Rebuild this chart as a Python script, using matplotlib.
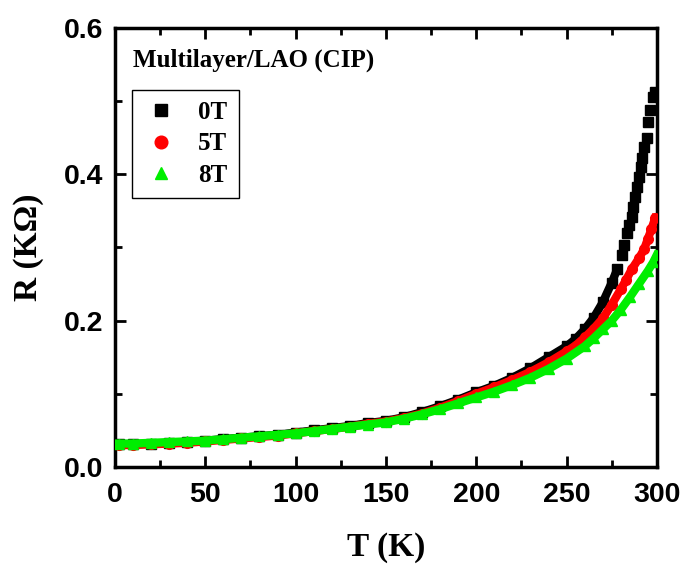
import numpy as np
import matplotlib
matplotlib.use("Agg")
import matplotlib.pyplot as plt
from matplotlib.ticker import MultipleLocator, FormatStrFormatter

# ===== Data (T in K, R in kOhm) =====
T_0T = [2, 10, 20, 30, 40, 50, 60, 70, 80, 90, 100, 110, 120, 130, 140, 150,
        160, 170, 180, 190, 200, 210, 220, 230, 240, 250, 255, 260, 265, 270,
        275, 278, 280.6, 281.7, 283.3, 284.5, 286, 286.7, 287.8, 289, 290,
        291, 292, 292.8, 294.4, 295, 296, 297.7, 298.8]
R_0T = [0.031, 0.031, 0.032, 0.033, 0.034, 0.036, 0.038, 0.040, 0.042, 0.044,
        0.047, 0.050, 0.053, 0.056, 0.060, 0.063, 0.068, 0.075, 0.083, 0.092,
        0.102, 0.111, 0.122, 0.135, 0.150, 0.165, 0.175, 0.188, 0.204, 0.225,
        0.252, 0.270, 0.290, 0.303, 0.320, 0.331, 0.342, 0.355, 0.369, 0.383,
        0.396, 0.410, 0.422, 0.437, 0.450, 0.472, 0.488, 0.506, 0.512]

T_5T = [2, 10, 20, 30, 40, 50, 60, 70, 80, 90, 100, 110, 120, 130, 140, 150,
        160, 170, 180, 190, 200, 210, 220, 230, 240, 250, 255, 260, 265, 270,
        275, 280, 283, 286, 290, 293, 295, 297, 299]
R_5T = [0.030, 0.030, 0.031, 0.032, 0.033, 0.035, 0.037, 0.039, 0.041, 0.043,
        0.046, 0.049, 0.052, 0.055, 0.059, 0.062, 0.067, 0.073, 0.081, 0.090,
        0.100, 0.109, 0.119, 0.130, 0.143, 0.158, 0.166, 0.177, 0.189, 0.203,
        0.222, 0.243, 0.256, 0.270, 0.285, 0.298, 0.312, 0.325, 0.340]

T_8T = [2, 10, 20, 30, 40, 50, 60, 70, 80, 90, 100, 110, 120, 130, 140, 150,
        160, 170, 180, 190, 200, 210, 220, 230, 240, 250, 260, 265, 270, 275,
        280, 285, 290, 295, 298, 300]
R_8T = [0.032, 0.032, 0.033, 0.034, 0.035, 0.036, 0.038, 0.040, 0.042, 0.044,
        0.046, 0.049, 0.052, 0.055, 0.058, 0.061, 0.066, 0.072, 0.079, 0.087,
        0.095, 0.103, 0.112, 0.122, 0.134, 0.148, 0.165, 0.176, 0.188, 0.200,
        0.215, 0.232, 0.250, 0.268, 0.280, 0.290]

SANS = 'Liberation Sans'
SERIF = 'Liberation Serif'
GREEN = '#00ee00'

fig = plt.figure(figsize=(6.86, 5.65), dpi=100)
ax = fig.add_axes([0.1676, 0.1735, 0.790, 0.777])

t0 = np.array(T_0T)
r0 = np.array(R_0T)
dense = t0 <= 278
# dense part of each run shows as a thick band of overlapping symbols
ax.plot(t0[dense], r0[dense], '-', color='black', lw=6, solid_capstyle='butt', zorder=2)
ax.plot(t0, r0, 's', color='black', ms=7, zorder=2, label='0T')
ax.plot(T_5T, R_5T, '-', color='red', lw=6, zorder=3)
ax.plot(T_5T, R_5T, 'o', color='red', ms=7, zorder=3, label='5T')
ax.plot(T_8T, R_8T, '-', color=GREEN, lw=6, zorder=4)
ax.plot(T_8T, R_8T, '^', color=GREEN, ms=7, zorder=4, label='8T')

ax.set_xlim(0, 300)
ax.set_ylim(0, 0.6)
ax.xaxis.set_major_locator(MultipleLocator(50))
ax.xaxis.set_minor_locator(MultipleLocator(25))
ax.yaxis.set_major_locator(MultipleLocator(0.2))
ax.yaxis.set_minor_locator(MultipleLocator(0.1))
ax.yaxis.set_major_formatter(FormatStrFormatter('%.1f'))

ax.tick_params(which='both', direction='in', top=True, right=True, width=2)
ax.tick_params(which='major', length=8)
ax.tick_params(which='minor', length=5)
ax.tick_params(axis='x', pad=11)
ax.tick_params(axis='y', pad=8.5)
for lab in ax.get_xticklabels() + ax.get_yticklabels():
    lab.set_fontfamily(SANS)
    lab.set_fontweight('bold')
    lab.set_fontsize(20.5)
for sp in ax.spines.values():
    sp.set_linewidth(2.5)

ax.set_xlabel('T (K)', fontfamily=SERIF, fontweight='bold', fontsize=24, labelpad=17)
ax.set_ylabel('R (KΩ)', fontfamily=SERIF, fontweight='bold', fontsize=24, labelpad=14)

ax.text(10, 0.556, 'Multilayer/LAO (CIP)', fontfamily=SERIF, fontweight='bold',
        fontsize=18, va='center', ha='left')

leg = ax.legend(loc='upper left', bbox_to_anchor=(0.031, 0.859), borderaxespad=0,
                fancybox=False, edgecolor='black', framealpha=1, handlelength=1.4,
                handletextpad=0.8, borderpad=0.45, labelspacing=0.33, markerscale=1.3,
                prop={'family': SERIF, 'weight': 'bold', 'size': 18})
leg.get_frame().set_linewidth(1.0)

fig.savefig('out.png', dpi=100)
